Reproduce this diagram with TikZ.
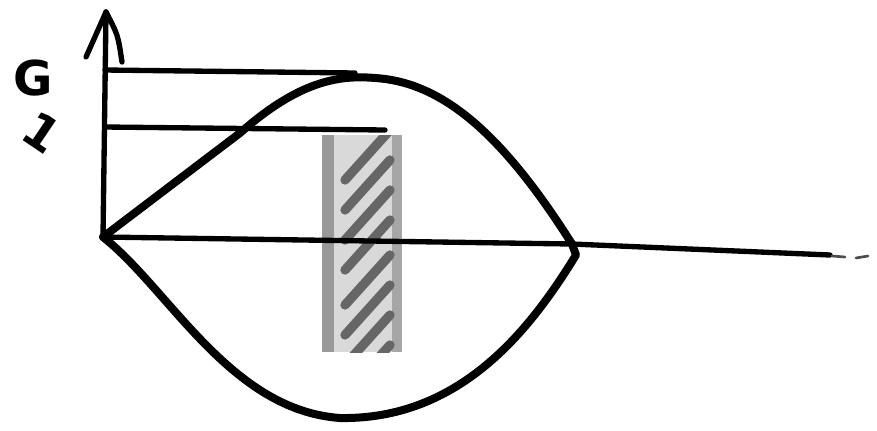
\documentclass[tikz,border=0pt]{standalone}
\usepackage{fontspec}
\setmainfont{DejaVu Sans}
\begin{document}
\begin{tikzpicture}[x=0.75pt,y=-0.75pt,line cap=round,line join=round,
  axis/.style={line width=4pt,black},
  curve/.style={line width=6pt,black},
  hatch/.style={line width=7pt,black!60}]
\useasboundingbox (0,0) rectangle (877,430);
% named coordinates
\coordinate (O) at (103,237);
\coordinate (Ytop) at (106,12);
\coordinate (Xend) at (830,255);
\coordinate (R) at (572,244);
% hatched band
\begin{scope}
\clip (322,135) rectangle (402,352);
\fill[black!15] (322,135) rectangle (402,352);
\fill[black!40] (322,135) rectangle (334,352);
\fill[black!35] (392,135) rectangle (402,352);
\foreach \y in {180,210,240,270,305,335,365,395} {
  \draw[hatch] (345,\y) -- (390,\y-50);
}
\end{scope}
% axes
\draw[axis] (O) -- (Ytop);
\draw[axis] (Ytop) -- (86,57);
\draw[axis] (Ytop) .. controls (118,35) .. (122,62);
\draw[axis] (O) -- (R) -- (Xend);
\draw[line width=2pt,black!70] (832,256) -- (845,257);
\draw[line width=2pt,black!70] (856,258) -- (868,256);
% horizontal levels
\draw[axis] (105,70) -- (355,73);
\draw[axis] (105,127) -- (385,130);
% labels
\node (G) at (33,78) {\fontsize{36}{36}\selectfont\bfseries G};
\node[rotate=-34] (one) at (42,132) {\fontsize{36}{36}\selectfont\bfseries 1};
% upper curve
\draw[curve] (O) -- (240,133) .. controls (300,80) and (340,75) .. (375,78)
  .. controls (440,82) and (500,130) .. (R);
% lower curve
\draw[curve] (O) .. controls (170,290) and (230,410) .. (340,418)
  .. controls (460,420) and (530,330) .. (576,255) -- (R);
\end{tikzpicture}
\end{document}
